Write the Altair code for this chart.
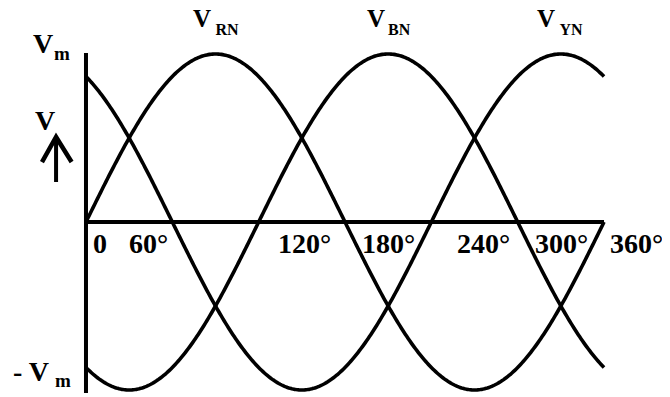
import altair as alt
import pandas as pd

# ---------------- data ----------------
phase_names = ["RN", "BN", "YN"]
phase_shift_deg = [0, -120, 120]      # V_RN = Vm sin(t), V_BN = Vm sin(t-120), V_YN = Vm sin(t+120)
amplitude_vm = 1.0
theta_start, theta_stop, theta_step = 0, 360, 1

tick_labels = ["0", "60°", "120°", "180°", "240°", "300°", "360°"]
tick_label_theta = [4.9, 29.9, 133.4, 191.8, 257.8, 312.0, 364.2]
tick_label_v = -0.185

phase_label_theta = [74.4, 195.3, 313.4]
phase_sub_theta = [90.0, 209.9, 329.0]
phase_label_v = 1.160
phase_sub_v = 1.113

axis_main_text = ["V", "V", "- V"]
axis_main_theta = [-36.8, -35.4, -50.7]
axis_main_v = [1.006, 0.548, -0.946]
axis_sub_text = ["m", "m"]
axis_sub_theta = [-22.2, -21.5]
axis_sub_v = [0.964, -0.982]

v_axis_span = [-1.018, 1.006]
arrow_theta = -20.8
arrow_tail_v, arrow_tip_v = 0.238, 0.506
arrow_head_theta = [-30.6, -20.8, -10.0]
arrow_head_v = [0.357, 0.506, 0.357]

# ---------------- scales ----------------
W, H = 654, 389
xs = alt.Scale(domain=[-54.2, 400.3], nice=False, zero=False)
ys = alt.Scale(domain=[-1.0417, 1.2738], nice=False, zero=False)
FONT = "Liberation Serif"

def X(field="theta"):
    return alt.X(f"{field}:Q", scale=xs, axis=None)

def Y(field="v"):
    return alt.Y(f"{field}:Q", scale=ys, axis=None)

# ---------------- curves ----------------
calc = {
    f"V{n}": f"{amplitude_vm}*sin((datum.theta + ({s}))*PI/180)"
    for n, s in zip(phase_names, phase_shift_deg)
}
curves = (
    alt.Chart(alt.sequence(theta_start, theta_stop + theta_step / 2, theta_step, as_="theta"))
    .transform_calculate(**calc)
    .transform_fold([f"V{n}" for n in phase_names], as_=["phase", "v"])
    .mark_line(color="black", strokeWidth=3.6)
    .encode(x=X(), y=Y(), detail="phase:N", order="theta:Q")
)

# ---------------- axes ----------------
haxis = (
    alt.Chart(pd.DataFrame({"theta": [theta_start], "theta2": [theta_stop], "v": [0.0]}))
    .mark_rule(color="black", strokeWidth=4)
    .encode(x=X(), x2="theta2:Q", y=Y())
)
vaxis = (
    alt.Chart(pd.DataFrame({"theta": [0.0], "v": [v_axis_span[0]], "v2": [v_axis_span[1]]}))
    .mark_rule(color="black", strokeWidth=4)
    .encode(x=X(), y=Y(), y2="v2:Q")
)

# ---------------- arrow ----------------
shaft = (
    alt.Chart(pd.DataFrame({"theta": [arrow_theta], "v": [arrow_tail_v], "v2": [arrow_tip_v - 0.01]}))
    .mark_rule(color="black", strokeWidth=4)
    .encode(x=X(), y=Y(), y2="v2:Q")
)
head = (
    alt.Chart(pd.DataFrame({"theta": arrow_head_theta, "v": arrow_head_v, "o": [0, 1, 2]}))
    .mark_line(color="black", strokeWidth=4.5, strokeJoin="miter")
    .encode(x=X(), y=Y(), order="o:Q")
)

# ---------------- texts ----------------
def texts(thetas, vs, labels, size):
    return (
        alt.Chart(pd.DataFrame({"theta": thetas, "v": vs, "t": labels}))
        .mark_text(align="left", baseline="alphabetic", font=FONT, fontWeight="bold",
                   fontSize=size, color="black")
        .encode(x=X(), y=Y(), text="t:N")
    )

ticks = texts(tick_label_theta, [tick_label_v] * len(tick_labels), tick_labels, 28)
phase_main = texts(phase_label_theta, [phase_label_v] * 3, ["V"] * 3, 25)
phase_sub = texts(phase_sub_theta, [phase_sub_v] * 3, phase_names, 16)
axis_main = texts(axis_main_theta, axis_main_v, axis_main_text, 28)
axis_sub = texts(axis_sub_theta, axis_sub_v, axis_sub_text, 19)

chart = (
    alt.layer(curves, haxis, vaxis, shaft, head, ticks, phase_main, phase_sub, axis_main, axis_sub)
    .properties(width=W, height=H, padding=0, autosize=alt.AutoSizeParams(type="none"), background="white")
    .configure_view(stroke=None)
)

chart.save("out.html", embed_options={"renderer": "svg", "actions": False})
